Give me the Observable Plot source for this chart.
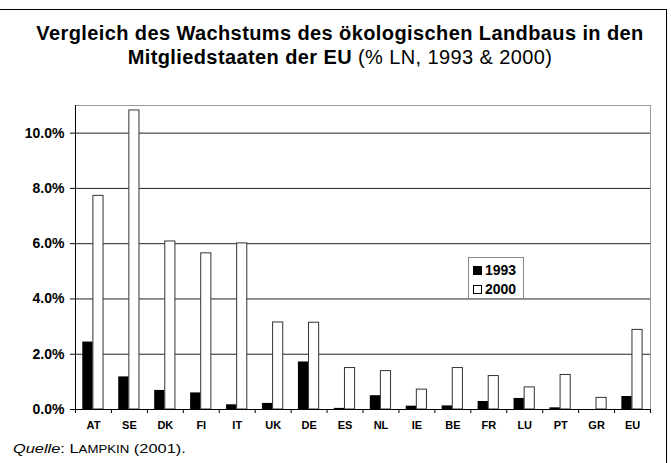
<!DOCTYPE html>
<html>
<head>
<meta charset="utf-8">
<script src="https://cdn.jsdelivr.net/npm/d3@7"></script>
<script src="https://cdn.jsdelivr.net/npm/@observablehq/plot@0.6"></script>
<style>
  html, body { margin: 0; padding: 0; background: #fff; }
  body { width: 671px; height: 463px; position: relative; overflow: hidden; font-family: "Liberation Sans", Arial, sans-serif; color: #000; }
  #frame { position: absolute; left: -2px; top: 9px; width: 669px; height: 470px; border-top: 1px solid #000; border-right: 1px solid #000; box-sizing: border-box; }
  #title { position: absolute; left: 6px; top: 21px; width: 668px; text-align: center; font-size: 20px; line-height: 24px; letter-spacing: 0.4px; }
  #title b { font-weight: bold; }
  #chart { position: absolute; left: 0; top: 90px; }
  #legend { position: absolute; left: 468px; top: 257px; width: 56px; height: 42px; border: 1px solid #888; background: #fff; box-sizing: border-box; font-weight: bold; font-size: 14px; }
  .item { position: absolute; left: 4px; height: 16px; line-height: 16px; }
  .sw { display: inline-block; width: 9px; height: 9px; box-sizing: border-box; border: 1px solid #000; margin-right: 3px; vertical-align: 0px; }
  #caption { position: absolute; left: 13px; top: 441px; font-size: 13px; white-space: nowrap; transform: scaleX(1.26); transform-origin: 0 50%; }
  #caption .sc { font-size: 10.5px; }
</style>
</head>
<body>
<div id="frame"></div>
<div id="title"><b>Vergleich des Wachstums des ökologischen Landbaus in den<br>Mitgliedstaaten der EU</b> (% LN, 1993 &amp; 2000)</div>
<div id="chart"></div>
<div id="legend"></div>
<div id="caption"><i>Quelle</i>: L<span class="sc">AMPKIN</span> (2001).</div>
<script>
const countries = ["AT","SE","DK","FI","IT","UK","DE","ES","NL","IE","BE","FR","LU","PT","GR","EU"];
const share1993 = [2.44,1.18,0.69,0.60,0.17,0.22,1.72,0.04,0.50,0.12,0.13,0.29,0.40,0.06,0.00,0.47];
const share2000 = [7.73,10.82,6.08,5.65,6.01,3.15,3.14,1.50,1.39,0.72,1.50,1.21,0.80,1.25,0.42,2.88];
const years = ["1993","2000"];
const yTicks = [0,2,4,6,8,10];
const yMax = 11;

const rows1993 = countries.map((c,i) => ({country: c, year: years[0], value: share1993[i]}));
const rows2000 = countries.map((c,i) => ({country: c, year: years[1], value: share2000[i]}));

const W = 671, H = 345, mL = 75, mR = 21, mT = 15, mB = 26;
const bw = (W - mL - mR) / countries.length;

const chart = Plot.plot({
  width: W, height: H,
  marginLeft: mL, marginRight: mR, marginTop: mT, marginBottom: mB,
  style: {fontFamily: "'Liberation Sans', Arial, sans-serif", color: "#000", background: "transparent"},
  x: {domain: countries, padding: 0, round: false, axis: null},
  y: {domain: [0, yMax], axis: null},
  marks: [
    Plot.frame({stroke: "#999"}),
    Plot.ruleY(yTicks.slice(1), {stroke: "#222"}),
    Plot.barY(rows1993, {x: "country", y: "value", fill: "#000", insetLeft: 7.3, insetRight: 18.3}),
    Plot.barY(rows2000, {x: "country", y: "value", fill: "#fff", stroke: "#333", insetLeft: 17.9, insetRight: 7.9}),
    Plot.ruleY([0], {stroke: "#000"}),
    Plot.ruleX(countries, {x: d => d, dx: -bw/2, y1: 0, y2: 0, insetBottom: -4, stroke: "#000"}),
    Plot.ruleX([countries[0]], {x: d => d, dx: -bw/2, insetBottom: -4, stroke: "#000"}),
    Plot.ruleX([countries[countries.length-1]], {x: d => d, dx: bw/2, y1: 0, y2: 0, insetBottom: -4, stroke: "#000"}),
    Plot.axisY({ticks: yTicks, tickFormat: d => d.toFixed(1) + "%", tickSize: 5, tickPadding: 6, fontSize: 14, fontWeight: "bold", anchor: "left", stroke: "#000", label: null}),
    Plot.axisX({tickSize: 0, tickPadding: 12, fontSize: 11, fontWeight: "bold", anchor: "bottom", label: null})
  ]
});
document.getElementById("chart").appendChild(chart);

const legend = document.getElementById("legend");
const fills = ["#000", "#fff"];
years.forEach((y, i) => {
  const item = document.createElement("div");
  item.className = "item";
  item.style.top = (4 + i * 19) + "px";
  item.innerHTML = `<span class="sw" style="background:${fills[i]}"></span>${y}`;
  legend.appendChild(item);
});
</script>
</body>
</html>
